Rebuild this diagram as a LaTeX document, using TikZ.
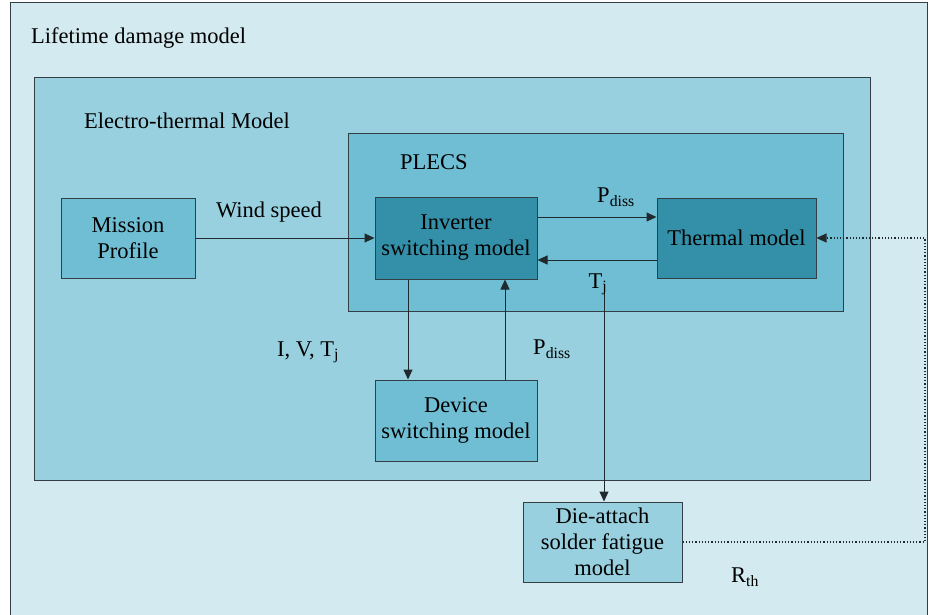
\documentclass[tikz,border=0pt]{standalone}
\usepackage{fontspec}
\setmainfont{Liberation Serif}
\usetikzlibrary{arrows.meta}
\definecolor{cOuter}{HTML}{D3EAF0}
\definecolor{cMid}{HTML}{98D0DF}
\definecolor{cPlecs}{HTML}{70BED4}
\definecolor{cDark}{HTML}{3390A8}
\definecolor{cBord}{HTML}{333F44}
\definecolor{cLine}{HTML}{1E2A2E}
\newcommand{\bigfs}{\fontsize{22.5}{26}\selectfont}
\begin{document}
\begin{tikzpicture}[x=1pt,y=-1pt,
  region/.style={draw=cBord, line width=1pt},
  blk/.style={draw=cBord, line width=1pt, rectangle, align=center, font=\bigfs, inner sep=0pt},
  lbl/.style={font=\bigfs, inner sep=0pt},
  arr/.style={draw=cLine, line width=1pt, -{Triangle[length=10pt,width=9pt]}},
  dotarr/.style={draw=cLine, line width=1.2pt, dotted, -{Triangle[length=10pt,width=9pt]}}]
\useasboundingbox (0,0) rectangle (929,614);
\clip (0,0) rectangle (929,614);
\fill[white] (0,0) rectangle (929,614);
% regions
\draw[region, fill=cOuter] (10,2) rectangle (927,640);
\draw[region, fill=cMid] (34,77) rectangle (870,480);
\draw[region, fill=cPlecs] (348,133) rectangle (843,311);
\node[lbl, anchor=base west] (tlife) at (31,43) {Lifetime damage model};
\node[lbl, anchor=base west] (telec) at (84,128) {Electro-thermal Model};
\node[lbl, anchor=base west] (tplecs) at (400,169) {PLECS};
% blocks
\node[blk, fill=cPlecs, minimum width=134pt, minimum height=80pt] (mission) at (128,238) {Mission\\Profile};
\node[blk, fill=cDark, minimum width=162pt, minimum height=82pt] (inv) at (456,238) {Inverter\\switching model};
\node[blk, fill=cDark, minimum width=159pt, minimum height=80pt] (therm) at (736.5,238) {Thermal model};
\node[blk, fill=cPlecs, minimum width=162pt, minimum height=81pt] (dev) at (456,420.5) {Device\\switching model};
\node[blk, fill=cMid, minimum width=159pt, minimum height=80pt] (die) at (602.5,542) {Die-attach\\solder fatigue\\model};
% helper coordinates
\coordinate (ypd) at (0,217);
\coordinate (ytj) at (0,260);
\coordinate (xdown) at (408,0);
\coordinate (xup) at (505,0);
\coordinate (tjtop) at (604,292);
\coordinate (c1) at (925,542);
\coordinate (c2) at (925,238);
% connectors
\draw[arr] (mission.east) -- (inv.west);
\draw[arr] (inv.east |- ypd) -- (therm.west |- ypd);
\draw[arr] (therm.west |- ytj) -- (inv.east |- ytj);
\draw[arr] (xdown |- inv.south) -- (xdown |- dev.north);
\draw[arr] (xup |- dev.north) -- (xup |- inv.south);
\draw[arr] (tjtop) -- (tjtop |- die.north);
\draw[dotarr] (die.east |- c1) -- (c1) -- (c2) -- (therm.east);
% labels
\node[lbl] (lwind) at (269,212) {Wind speed};
\node[lbl] (lpd1) at (616,197) {P\textsubscript{diss}};
\node[lbl] (ltj1) at (598,284) {T\textsubscript{j}};
\node[lbl] (livt) at (308,352) {I, V, T\textsubscript{j}};
\node[lbl] (lpd2) at (552,349) {P\textsubscript{diss}};
\node[lbl] (lrth) at (745,577) {R\textsubscript{th}};
\end{tikzpicture}
\end{document}
